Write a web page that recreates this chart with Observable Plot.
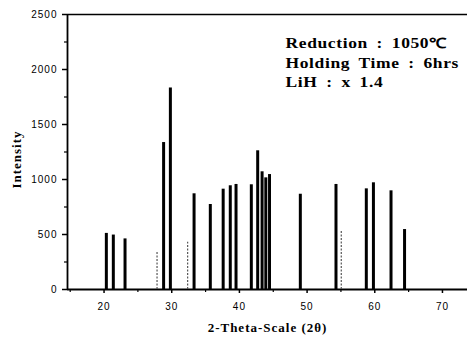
<!DOCTYPE html>
<html>
<head>
<meta charset="utf-8">
<script src="https://cdn.jsdelivr.net/npm/d3@7"></script>
<script src="https://cdn.jsdelivr.net/npm/@observablehq/plot@0.6"></script>
<style>
  html, body { margin: 0; padding: 0; background: #fff; }
  #chart svg { display: block; }
</style>
</head>
<body>
<div id="chart"></div>
<script>
// Strong reflections (2θ, intensity)
const peakTheta = [20.34, 21.37, 23.1, 28.8, 29.8, 33.3, 35.7, 37.6, 38.65, 39.5, 41.76, 42.7, 43.35, 43.9, 44.45, 49.0, 54.27, 58.75, 59.8, 62.4, 64.4];
const peakIntensity = [510, 495, 460, 1336, 1832, 870, 773, 912, 943, 955, 952, 1261, 1070, 1015, 1045, 866, 955, 915, 970, 897, 545];
// Weak (dotted) reflections
const weakTheta = [27.83, 32.35, 55.05];
const weakIntensity = [340, 430, 536];
// Tick values
const xTicks = [20, 30, 40, 50, 60, 70];
const xMinorTicks = [15, 25, 35, 45, 55, 65];
const yTicks = [0, 500, 1000, 1500, 2000, 2500];
const yMinorTicks = [250, 750, 1250, 1750, 2250];
// Annotation
const notes = ["Reduction : 1050℃", "Holding Time : 6hrs", "LiH : x 1.4"];
const xLabel = "2-Theta-Scale (2θ)";
const yLabel = "Intensity";

const peaks = peakTheta.map((t, i) => ({t, i: peakIntensity[i]}));
const weak = weakTheta.map((t, i) => ({t, i: weakIntensity[i]}));

const serif = "'Liberation Serif', 'Times New Roman', serif";
const sans = "'Liberation Sans', Arial, sans-serif";

const chart = Plot.plot({
  width: 467,
  height: 338,
  marginLeft: 67,
  marginRight: 0,
  marginTop: 14,
  marginBottom: 49,
  style: {fontFamily: sans, background: "#fff", color: "#000", overflow: "visible"},
  x: {domain: [14.6, 73.7]},
  y: {domain: [0, 2500]},
  marks: [
    Plot.axisY({ticks: yTicks, tickSize: 5, tickPadding: 5, fontSize: 10, label: null, strokeWidth: 1.5, tickFormat: d3.format("d"), stroke: "#000"}),
    Plot.axisY({ticks: yMinorTicks, tickSize: 3, tickFormat: () => "", label: null, strokeWidth: 1.2, stroke: "#000"}),
    Plot.axisX({ticks: xTicks, tickSize: 4, tickPadding: 9, fontSize: 10, label: null, strokeWidth: 1.5, stroke: "#000"}),
    Plot.axisX({ticks: xMinorTicks, tickSize: 3, tickFormat: () => "", label: null, strokeWidth: 1.2, stroke: "#000"}),
    Plot.ruleY([0], {strokeWidth: 1.8}),
    Plot.ruleY([2500], {strokeWidth: 1.5}),
    Plot.ruleX([14.6], {strokeWidth: 1.8}),
    Plot.ruleX(weak, {x: "t", y1: 0, y2: "i", stroke: "#555", strokeWidth: 1.2, strokeDasharray: "2,1.5"}),
    Plot.ruleX(peaks, {x: "t", y1: 0, y2: "i", stroke: "#000", strokeWidth: 3}),
    Plot.text([notes.join("\n")], {
      frameAnchor: "top-left", dx: 218, dy: 19.5, lineAnchor: "top", textAnchor: "start",
      lineHeight: 1.41, fontSize: 14, fontWeight: "bold", fontFamily: serif, fill: "#000"
    }),
    Plot.text([xLabel], {
      frameAnchor: "bottom", dy: 42, lineAnchor: "bottom", textAnchor: "middle", fontSize: 13, fontWeight: "bold",
      fontFamily: serif, fill: "#000"
    }),
    Plot.text([yLabel], {
      frameAnchor: "left", rotate: -90, dx: -51, dy: 7.5, lineAnchor: "middle", textAnchor: "middle",
      fontSize: 13, fontWeight: "bold", fontFamily: serif, fill: "#000"
    })
  ]
});
document.getElementById("chart").append(chart);
// Widen text to match the horizontally stretched scan
chart.querySelectorAll("text").forEach((t) => {
  const s = t.textContent;
  if (/^\d+$/.test(s.trim())) {
    t.setAttribute("letter-spacing", "1px");
  } else if (s.includes("Reduction")) {
    t.setAttribute("letter-spacing", "0.5px");
    t.setAttribute("word-spacing", "3px");
    const bb = t.getBBox();
    const tr = t.getAttribute("transform") || "";
    t.setAttribute("transform", `${tr} translate(${bb.x},0) scale(1.25,1) translate(${-bb.x},0)`);
  } else if (s === xLabel || s === yLabel) {
    t.setAttribute("letter-spacing", "1px");
  }
});
</script>
</body>
</html>
